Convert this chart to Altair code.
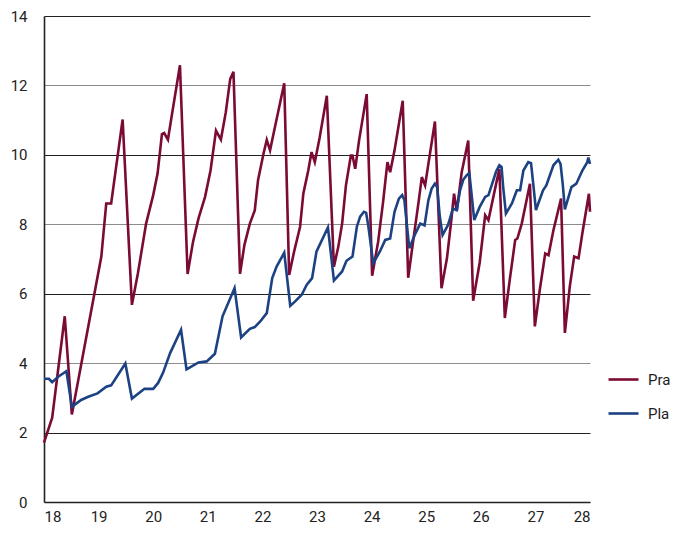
import altair as alt
import pandas as pd

pra_x = [18.00, 18.15, 18.38, 18.51, 19.05, 19.14, 19.23, 19.44, 19.61, 19.72, 19.87, 20.00,
         20.08, 20.16, 20.20, 20.27, 20.34, 20.49, 20.63, 20.73, 20.83, 20.95, 21.05, 21.15,
         21.24, 21.33, 21.41, 21.47, 21.59, 21.67, 21.77, 21.86, 21.92, 22.02, 22.08, 22.14,
         22.23, 22.40, 22.49, 22.58, 22.69, 22.75, 22.84, 22.90, 22.96, 23.05, 23.18, 23.31,
         23.39, 23.46, 23.53, 23.62, 23.65, 23.70, 23.77, 23.91, 24.01, 24.12, 24.21, 24.29,
         24.34, 24.42, 24.57, 24.67, 24.76, 24.86, 24.92, 24.98, 25.04, 25.16, 25.28, 25.38,
         25.45, 25.51, 25.56, 25.65, 25.77, 25.86, 25.98, 26.08, 26.14, 26.23, 26.34, 26.44,
         26.53, 26.63, 26.67, 26.75, 26.90, 26.99, 27.08, 27.18, 27.24, 27.33, 27.47, 27.54,
         27.63, 27.71, 27.79, 27.86, 27.98, 28.00]
pra_y = [1.71, 2.43, 5.35, 2.52, 7.07, 8.60, 8.60, 11.02, 5.68, 6.59, 8.02, 8.84,
         9.46, 10.60, 10.63, 10.44, 11.13, 12.58, 6.57, 7.50, 8.17, 8.79, 9.55, 10.70,
         10.44, 11.23, 12.18, 12.39, 6.57, 7.40, 8.02, 8.40, 9.27, 10.03, 10.43, 10.13,
         10.80, 12.06, 6.54, 7.21, 7.93, 8.89, 9.55, 10.08, 9.79, 10.51, 11.70, 6.78,
         7.35, 8.02, 9.12, 9.98, 9.98, 9.60, 10.41, 11.75, 6.52, 7.50, 8.64, 9.79,
         9.50, 10.13, 11.56, 6.46, 7.50, 8.64, 9.36, 9.12, 9.74, 10.96, 6.16, 7.02,
         7.98, 8.88, 8.38, 9.50, 10.41, 5.80, 6.90, 8.26, 8.12, 8.79, 9.60, 5.30,
         6.40, 7.55, 7.59, 8.02, 9.17, 5.06, 6.11, 7.16, 7.11, 7.83, 8.74, 4.87,
         6.21, 7.07, 7.02, 7.74, 8.88, 8.36]

pla_x = [18.00, 18.09, 18.15, 18.26, 18.41, 18.51, 18.68, 18.81, 18.98, 19.14, 19.23, 19.49,
         19.61, 19.84, 20.00, 20.09, 20.18, 20.31, 20.51, 20.61, 20.83, 20.98, 21.13, 21.27,
         21.49, 21.61, 21.77, 21.86, 21.96, 22.08, 22.18, 22.26, 22.40, 22.51, 22.60, 22.72,
         22.81, 22.91, 22.99, 23.20, 23.31, 23.46, 23.54, 23.65, 23.73, 23.79, 23.86, 23.90,
         23.94, 24.03, 24.15, 24.25, 24.34, 24.42, 24.50, 24.56, 24.60, 24.69, 24.79, 24.89,
         24.97, 25.04, 25.10, 25.16, 25.20, 25.25, 25.30, 25.40, 25.49, 25.56, 25.62, 25.68,
         25.74, 25.79, 25.83, 25.88, 25.98, 26.08, 26.14, 26.23, 26.28, 26.34, 26.38, 26.41,
         26.46, 26.57, 26.66, 26.72, 26.78, 26.87, 26.92, 26.96, 27.01, 27.14, 27.20, 27.33,
         27.42, 27.46, 27.50, 27.54, 27.66, 27.75, 27.86, 27.95, 27.97, 28.00]
pla_y = [3.55, 3.55, 3.45, 3.61, 3.77, 2.74, 2.94, 3.03, 3.13, 3.32, 3.36, 3.99,
         2.98, 3.26, 3.26, 3.43, 3.72, 4.29, 4.96, 3.82, 4.02, 4.05, 4.27, 5.35,
         6.16, 4.74, 4.99, 5.04, 5.20, 5.44, 6.45, 6.78, 7.18, 5.65, 5.78, 5.97,
         6.25, 6.45, 7.21, 7.91, 6.38, 6.64, 6.95, 7.07, 7.93, 8.22, 8.36, 8.33,
         7.95, 6.88, 7.21, 7.55, 7.59, 8.36, 8.74, 8.84, 8.70, 7.31, 7.69, 8.02,
         7.97, 8.69, 9.03, 9.17, 9.07, 8.21, 7.69, 7.98, 8.45, 8.41, 8.98, 9.29,
         9.41, 9.48, 8.88, 8.12, 8.50, 8.79, 8.84, 9.27, 9.52, 9.70, 9.65, 9.07,
         8.31, 8.60, 8.98, 8.98, 9.55, 9.79, 9.76, 9.17, 8.41, 8.98, 9.12, 9.70,
         9.86, 9.74, 9.17, 8.43, 9.07, 9.17, 9.55, 9.79, 9.92, 9.74]

series_names = ["Pra", "Pla"]
series_colors = ["#7b0a34", "#1d4283"]

df = pd.concat([
    pd.DataFrame({"t": pra_x, "v": pra_y, "s": "Pra", "o": range(len(pra_x))}),
    pd.DataFrame({"t": pla_x, "v": pla_y, "s": "Pla", "o": range(len(pla_x))}),
])

chart = alt.Chart(df).mark_line(strokeWidth=2.6, strokeJoin="miter", strokeMiterLimit=4).encode(
    x=alt.X("t:Q", scale=alt.Scale(domain=[18, 28], nice=False, zero=False),
            axis=alt.Axis(title=None, values=list(range(18, 29)), grid=False, ticks=False,
                          domainColor="#222222", domainWidth=1.6, labelPadding=7,
                          labelFontSize=15, labelColor="#222222", labelFont="Roboto")),
    y=alt.Y("v:Q", scale=alt.Scale(domain=[0, 14], nice=False),
            axis=alt.Axis(title=None, values=list(range(0, 15, 2)), ticks=False,
                          domainColor="#222222", domainWidth=1.6, labelPadding=17,
                          labelFontSize=15, labelColor="#222222", labelFont="Roboto",
                          gridColor={"condition": {"test": "datum.value % 4 === 0",
                                                   "value": "#8c8c8c"},
                                     "value": "#222222"},
                          gridWidth=1.2)),
    color=alt.Color("s:N", scale=alt.Scale(domain=series_names, range=series_colors),
                    legend=alt.Legend(title=None, orient="none", legendX=563, legendY=347,
                                      symbolType="stroke", symbolSize=900,
                                      symbolStrokeWidth=2.6, rowPadding=9,
                                      labelFontSize=15, labelFont="Roboto",
                                      labelColor="#222222", labelOffset=8)),
    order="o:Q",
).properties(
    width=546, height=486,
    autosize=alt.AutoSizeParams(type="none"),
    padding={"left": 36, "top": 8, "right": 82, "bottom": 25},
).configure_view(stroke=None)

chart.save("out.html", embed_options={"renderer": "svg", "actions": False})
